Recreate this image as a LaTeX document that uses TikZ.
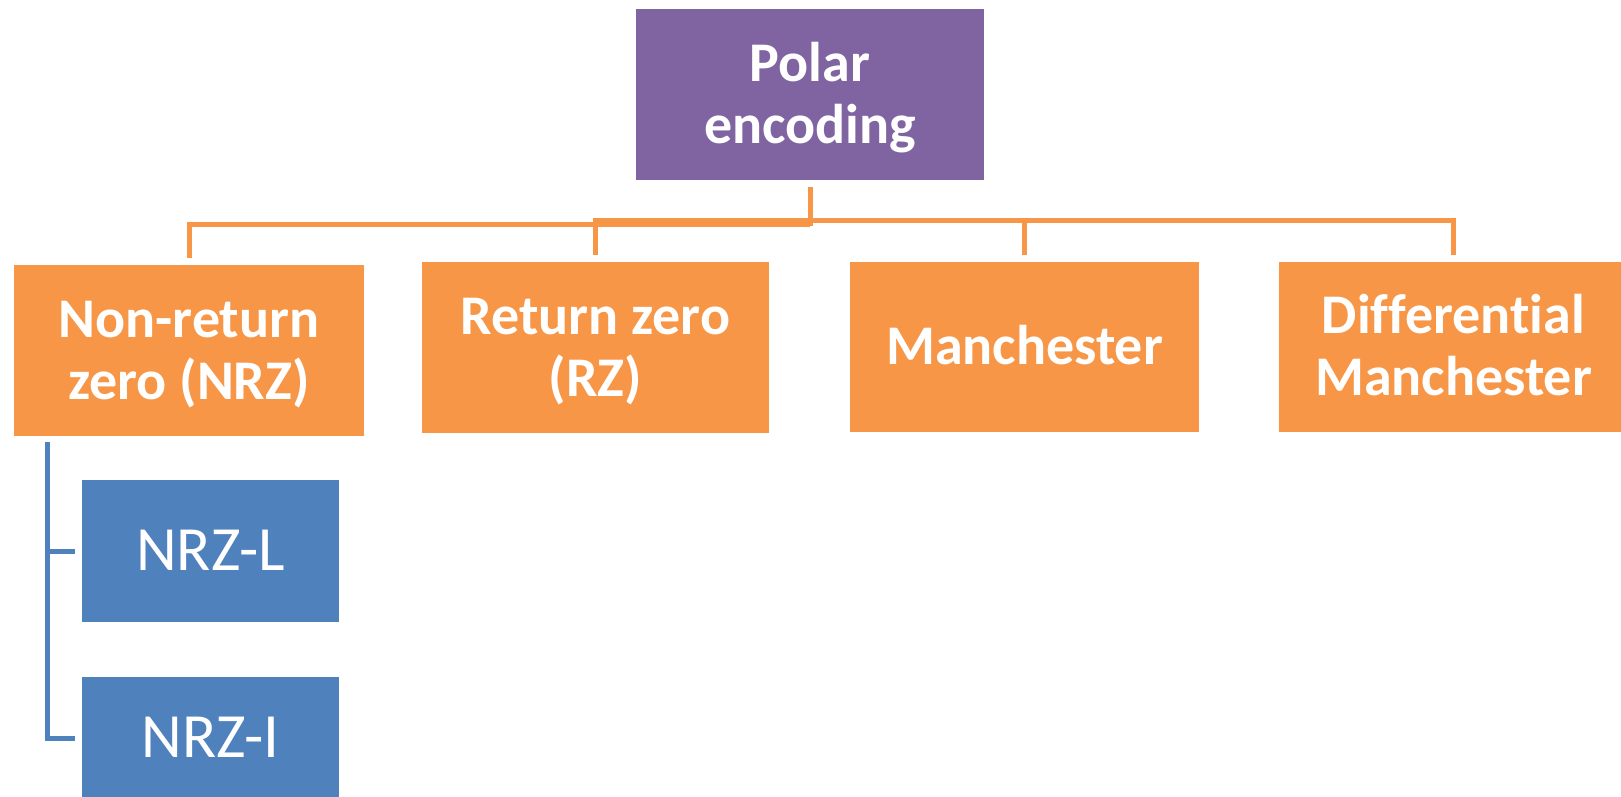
\documentclass[tikz,border=0pt]{standalone}
\usepackage{fontspec}
\setmainfont[Ligatures=NoCommon]{Carlito}
\definecolor{purp}{HTML}{8064A2}
\definecolor{orng}{HTML}{F79646}
\definecolor{blu}{HTML}{4F81BD}
\begin{document}
\begin{tikzpicture}[x=0.5pt,y=-0.5pt,
  box/.style={rectangle, inner sep=0pt, outer sep=3.5pt, text=white, align=center,
    font=\fontsize{28}{31}\selectfont\bfseries},
  onebox/.style={box, text height=17.7pt, text depth=0pt},
  twobox/.style={box, text height=48.7pt, text depth=0pt},
  bluebox/.style={rectangle, inner sep=0pt, outer sep=3.5pt, fill=blu, text=white,
    font=\fontsize{31.5}{36}\selectfont, text height=19.9pt, text depth=0pt,
    minimum width=128.5pt},
  oline/.style={draw=orng, line width=2.5pt},
  bline/.style={draw=blu, line width=2.5pt}]
\useasboundingbox (0,0) rectangle (1621,797);
\clip (0,0) rectangle (1621,797);

\node[twobox, fill=purp, minimum width=174pt, minimum height=85.5pt] (polar) at (810,94.5) {Polar\\encoding};
\node[twobox, fill=orng, minimum width=175pt, minimum height=85.5pt] (nrz) at (189,350.5) {Non-return\\zero (NRZ)};
\node[twobox, fill=orng, minimum width=173.5pt, minimum height=85.5pt] (rz) at (595.5,347.5) {Return zero\\(RZ)};
\node[onebox, fill=orng, minimum width=174.5pt, minimum height=85pt] (man) at (1024.5,347) {Manchester};
\node[twobox, fill=orng, minimum width=174.5pt, minimum height=85pt] (dm) at (1453.5,347) {Differential\\Manchester};
\node[bluebox, minimum height=71pt] (nrzl) at (210.5,551) {NRZ-L};
\node[bluebox, minimum height=61pt] (nrzi) at (210.5,738) {NRZ-I};

\draw[oline] (polar.south) -- (polar.south |- 0,226);
\draw[oline] (nrz.north) |- (polar.south |- 0,224);
\draw[oline] (rz.north) |- (dm.north |- 0,220) -- (dm.north);
\draw[oline] (man.north) -- (man.north |- 0,220);

\coordinate (tap) at (47,442);
\draw[bline] (tap) |- (nrzi.west);
\draw[bline] (tap |- nrzl.west) -- (nrzl.west);
\end{tikzpicture}
\end{document}
